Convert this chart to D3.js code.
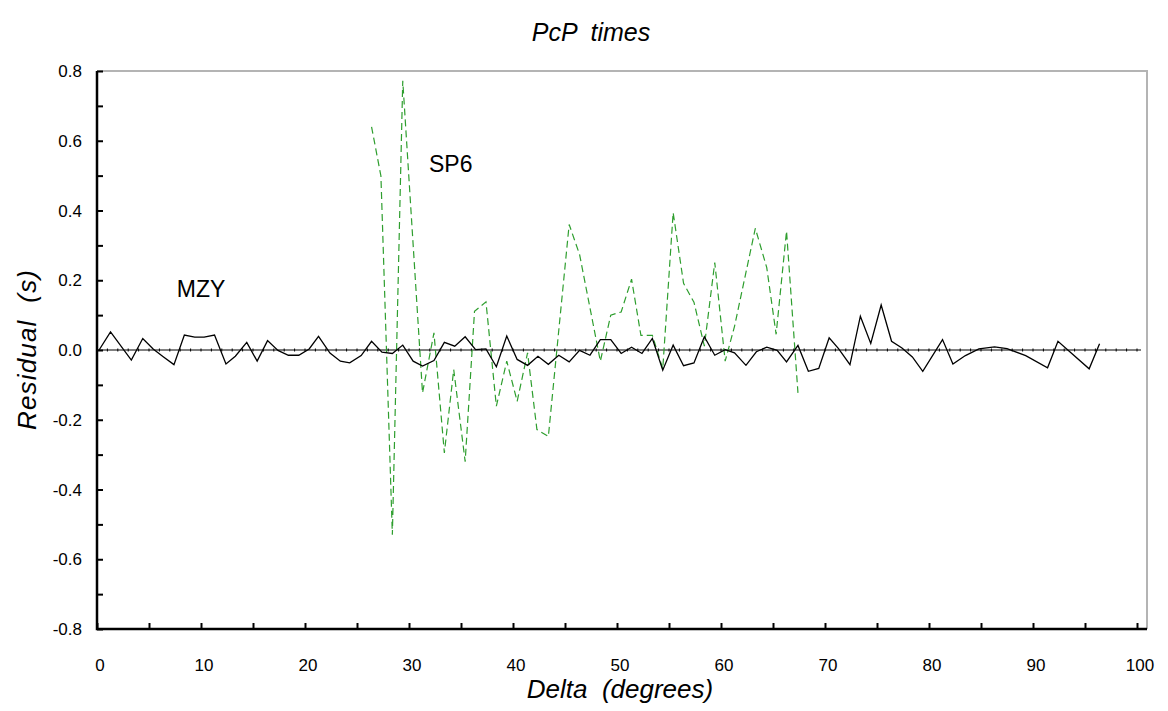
<!DOCTYPE html>
<html lang="en">

<head>
	<meta charset="utf-8">
	<title>PcP times</title>
	<script type="text/javascript" src="https://cdn.jsdelivr.net/npm/d3@7"></script>
	<style>
		body { margin: 0; background: #fff; }
		text { font-family: "Liberation Sans", Arial, sans-serif; fill: #000; }
	</style>
</head>

<body>
	<script type="text/javascript">

		// MZY residuals (solid black)
		const mzyDelta = [0.2, 1.3, 3.3, 4.4, 5.4, 6.4, 7.4, 8.4, 9.4, 10.3, 11.3, 12.4, 13.3, 14.4, 15.4, 16.4, 17.4, 18.4, 19.4, 20.4,
			21.3, 22.4, 23.4, 24.3, 25.4, 26.4, 27.4, 28.4, 29.4, 30.4, 31.3, 32.4, 33.4, 34.4, 35.4, 36.4, 37.4, 38.4, 39.4, 40.4,
			41.4, 42.4, 43.4, 44.4, 45.4, 46.4, 47.4, 48.4, 49.4, 50.4, 51.4, 52.4, 53.4, 54.4, 55.4, 56.4, 57.4, 58.4, 59.4, 60.4,
			61.3, 62.4, 63.4, 64.4, 65.4, 66.3, 67.4, 68.4, 69.4, 70.4, 71.3, 72.4, 73.4, 74.4, 75.4, 76.4, 77.4, 78.4, 79.4, 81.3,
			82.3, 83.5, 84.8, 86.3, 87.5, 89.3, 91.4, 92.4, 95.4, 96.4];
		const mzyResid = [0.0, 0.052, -0.029, 0.033, 0.003, -0.02, -0.042, 0.043, 0.037, 0.037, 0.043, -0.04, -0.018, 0.022, -0.032, 0.027, -0.001, -0.015, -0.015, 0.003,
			0.039, -0.009, -0.032, -0.037, -0.016, 0.025, -0.006, -0.01, 0.014, -0.032, -0.046, -0.03, 0.022, 0.011, 0.038, 0.001, 0.003, -0.048, 0.04, -0.027,
			-0.044, -0.018, -0.041, -0.015, -0.034, -0.001, -0.015, 0.03, 0.03, -0.01, 0.008, -0.01, 0.033, -0.058, 0.014, -0.045, -0.037, 0.038, -0.015, 0.001,
			-0.008, -0.044, -0.005, 0.008, -0.001, -0.034, 0.013, -0.061, -0.053, 0.035, 0.004, -0.042, 0.097, 0.019, 0.129, 0.025, 0.006, -0.02, -0.061, 0.03,
			-0.04, -0.016, 0.003, 0.009, 0.004, -0.016, -0.051, 0.025, -0.054, 0.018];

		// SP6 residuals (green dashed)
		const sp6Delta = [26.4, 27.3, 28.4, 29.4, 31.3, 32.4, 33.4, 34.3, 35.4, 36.3, 37.4, 38.4, 39.4, 40.4, 41.4, 42.3, 43.4, 45.4, 46.4, 48.4,
			49.4, 50.4, 51.4, 52.3, 53.4, 54.4, 55.4, 56.4, 57.4, 58.4, 59.4, 60.4, 61.3, 63.3, 64.4, 65.3, 66.3, 67.4];
		const sp6Resid = [0.64, 0.499, -0.53, 0.772, -0.123, 0.049, -0.295, -0.056, -0.32, 0.111, 0.138, -0.161, -0.032, -0.147, -0.008, -0.228, -0.248, 0.36, 0.274, -0.032,
			0.1, 0.109, 0.203, 0.042, 0.042, -0.054, 0.394, 0.191, 0.137, 0.011, 0.251, -0.032, 0.068, 0.349, 0.236, 0.045, 0.341, -0.123];

		const xTicks = [0, 10, 20, 30, 40, 50, 60, 70, 80, 90, 100];
		const yTicks = [-0.8, -0.6, -0.4, -0.2, 0.0, 0.2, 0.4, 0.6, 0.8];

		const w = 1168;
		const h = 711;
		const plotLeft = 97;
		const plotRight = 1137;
		const frameRight = 1147;
		const plotTop = 71;
		const plotBottom = 629;

		const svg = d3.select("body")
			.append("svg")
			.attr("width", w)
			.attr("height", h);

		const x = d3.scaleLinear().domain([0, 100]).range([plotLeft, plotRight]);
		const y = d3.scaleLinear().domain([-0.8, 0.8]).range([plotBottom, plotTop]);

		// grey frame top and right
		svg.append("path")
			.attr("d", `M${plotLeft},${plotTop}H${frameRight}V${plotBottom}`)
			.attr("fill", "none")
			.attr("stroke", "#b4b4b4")
			.attr("stroke-width", 2);

		// zero line with small ticks
		svg.append("line")
			.attr("x1", plotLeft).attr("x2", plotRight + 4)
			.attr("y1", y(0)).attr("y2", y(0))
			.attr("stroke", "#000")
			.attr("stroke-width", 1);
		svg.append("g")
			.selectAll("line")
			.data(d3.range(1, 101))
			.enter()
			.append("line")
			.attr("x1", d => x(d)).attr("x2", d => x(d))
			.attr("y1", y(0) - 1.5).attr("y2", y(0) + 1.5)
			.attr("stroke", "#000")
			.attr("stroke-width", 1);

		// axes, ticks pointing inward
		const xAxis = d3.axisTop(x)
			.tickValues(d3.range(0, 101, 5))
			.tickSize(6)
			.tickFormat("");
		svg.append("g")
			.attr("transform", `translate(0,${plotBottom})`)
			.call(xAxis)
			.call(g => g.select(".domain").remove())
			.selectAll("line").attr("stroke-width", 2);

		const yAxis = d3.axisRight(y)
			.tickValues(d3.range(-8, 9).map(d => d / 10))
			.tickSize(6)
			.tickFormat("");
		svg.append("g")
			.attr("transform", `translate(${plotLeft},0)`)
			.call(yAxis)
			.call(g => g.select(".domain").remove())
			.selectAll("line").attr("stroke-width", 2);

		svg.append("path")
			.attr("d", `M${plotLeft},${plotTop}V${plotBottom}H${frameRight}`)
			.attr("fill", "none")
			.attr("stroke", "#000")
			.attr("stroke-width", 2.5);

		// tick labels
		svg.selectAll("text.xlab")
			.data(xTicks)
			.enter()
			.append("text")
			.attr("class", "xlab")
			.attr("x", d => x(d) + 3)
			.attr("y", 671)
			.attr("text-anchor", "middle")
			.attr("font-size", "17px")
			.text(d => d);

		svg.selectAll("text.ylab")
			.data(yTicks)
			.enter()
			.append("text")
			.attr("class", "ylab")
			.attr("x", 82)
			.attr("y", d => y(d) + 6)
			.attr("text-anchor", "end")
			.attr("font-size", "17px")
			.text(d => d.toFixed(1));

		// series lines
		const mzy = mzyDelta.map((d, i) => [d, mzyResid[i]]);
		const sp6 = sp6Delta.map((d, i) => [d, sp6Resid[i]]);
		const line = d3.line().x(d => x(d[0])).y(d => y(d[1]));

		svg.append("path")
			.datum(sp6)
			.attr("d", line)
			.attr("fill", "none")
			.attr("stroke", "#2e9e2e")
			.attr("stroke-width", 1.2)
			.attr("stroke-dasharray", "7,4");

		svg.append("path")
			.datum(mzy)
			.attr("d", line)
			.attr("fill", "none")
			.attr("stroke", "#000")
			.attr("stroke-width", 1.3);

		// series labels
		svg.append("text")
			.attr("x", 201).attr("y", 297)
			.attr("text-anchor", "middle")
			.attr("font-size", "23px")
			.text("MZY");
		svg.append("text")
			.attr("x", 429).attr("y", 172)
			.attr("font-size", "23px")
			.text("SP6");

		// titles
		svg.append("text")
			.attr("x", 591).attr("y", 41)
			.attr("text-anchor", "middle")
			.attr("font-size", "25px")
			.attr("font-style", "italic")
			.attr("xml:space", "preserve")
			.text("PcP  times");

		svg.append("text")
			.attr("x", 620).attr("y", 698)
			.attr("text-anchor", "middle")
			.attr("font-size", "26px")
			.attr("font-style", "italic")
			.attr("xml:space", "preserve")
			.text("Delta  (degrees)");

		svg.append("text")
			.attr("transform", "translate(36,350) rotate(-90)")
			.attr("text-anchor", "middle")
			.attr("font-size", "26px")
			.attr("font-style", "italic")
			.attr("xml:space", "preserve")
			.attr("textLength", 160)
			.text("Residual  (s)");

	</script>
</body>

</html>
